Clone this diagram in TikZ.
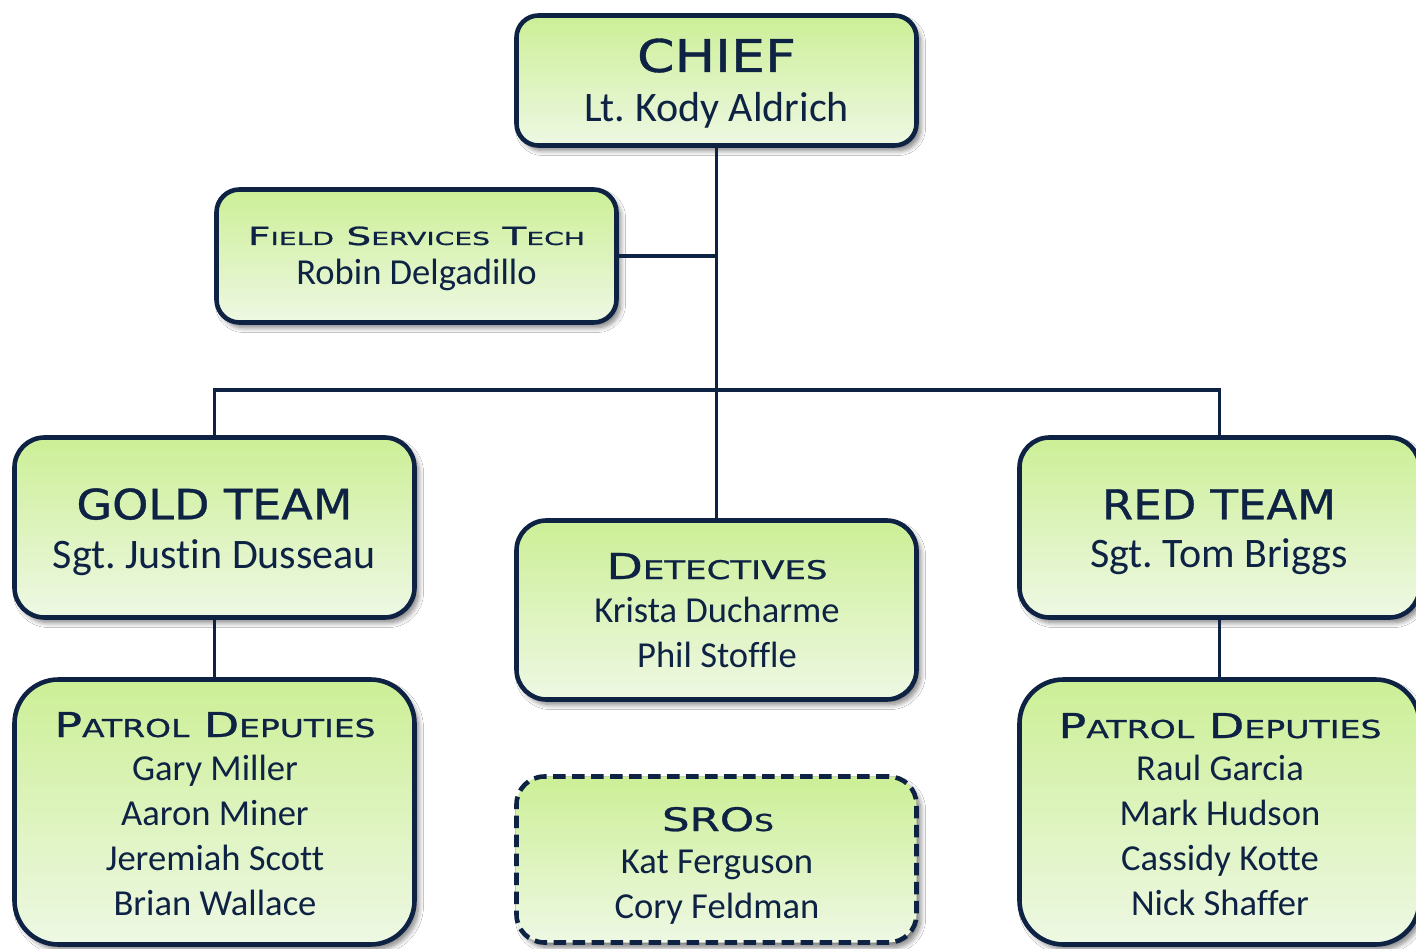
\documentclass[tikz,border=0pt]{standalone}
\usepackage{graphicx}
\usepackage{fontspec}
\setmainfont{Carlito}[Ligatures={NoCommon,NoRequired,NoContextual}]
\newfontfamily\hfont{DejaVu Sans}[FakeBold=0.8]
\usetikzlibrary{shadows.blur}
\definecolor{navy}{RGB}{14,34,68}
\definecolor{gtop}{RGB}{204,239,150}
\definecolor{gbot}{RGB}{238,248,228}
\newcommand\SC[1]{{\fontsize{28.8pt}{30pt}\selectfont #1}}
\newcommand\HD[3]{\resizebox{#1pt}{#2pt}{\hfont\fontsize{40pt}{40pt}\selectfont #3}}
\frenchspacing
\tikzset{
  box/.style={draw=navy, line width=4.6pt, top color=gtop, bottom color=gbot,
    inner sep=0pt, minimum width=400pt,
    blur shadow={shadow xshift=4pt, shadow yshift=-5pt, shadow blur radius=5pt,
      shadow blur steps=8, shadow opacity=50}},
  conn/.style={draw=navy, line width=3.8pt},
  nm/.style={anchor=base, text=navy, inner sep=0pt, font=\fontsize{36.6pt}{44pt}\selectfont},
  nmbig/.style={anchor=base, text=navy, inner sep=0pt, font=\fontsize{42pt}{50pt}\selectfont},
  hd/.style={anchor=base, text=navy, inner sep=0pt},
}
\begin{document}
\begin{tikzpicture}[x=1pt,y=-1pt]
\fill[white] (0,0) rectangle (1416,949);
\useasboundingbox (0,0) rectangle (1416,949);

% boxes
\node[box, rounded corners=22pt, minimum height=130pt] (chief) at (716.5,80.5) {};
\node[box, rounded corners=23pt, minimum height=133pt] (fst) at (416.5,256) {};
\node[box, rounded corners=30pt, minimum height=180pt] (gold) at (214.5,527.5) {};
\node[box, rounded corners=30pt, minimum height=179pt] (det) at (716.5,610) {};
\node[box, rounded corners=30pt, minimum height=180pt] (red) at (1219.5,527.5) {};
\node[box, rounded corners=44pt, minimum height=265pt] (patl) at (214.5,812) {};
\node[box, rounded corners=44pt, minimum height=265pt] (patr) at (1219.5,812) {};
\node[box, rounded corners=28pt, minimum height=166pt, dash pattern=on 12.5pt off 6.5pt] (sro) at (716.5,859.5) {};

% connectors
\coordinate (bus) at (716.5,390);
\draw[conn] (chief.south) -- (det.north);
\draw[conn] (fst.east) -- (fst.east -| chief.south);
\draw[conn] (gold.north) |- (bus) -| (red.north);
\draw[conn] (gold.south) -- (patl.north);
\draw[conn] (red.south) -- (patr.north);

% texts
\node[hd] (chiefh) at (716.5,72) {\HD{159}{33.5}{CHIEF}};
\node[nmbig] (chiefn) at (716.5,122) {Lt. Kody Aldrich};

\node[hd] (fsth) at (416.5,245) {\HD{337}{18.5}{F\SC{IELD} S\SC{ERVICES} T\SC{ECH}}};
\node[nm] (fstn) at (416.5,285) {Robin Delgadillo};

\node[hd] (goldh) at (214.5,519.3) {\HD{276}{31}{GOLD TEAM}};
\node[nmbig] (goldn) at (214.5,568) {Sgt. Justin Dusseau};

\node[hd] (redh) at (1219,519.3) {\HD{234}{30}{RED TEAM}};
\node[nmbig] (redn) at (1219,567) {Sgt. Tom Briggs};

\node[hd] (deth) at (717,579) {\HD{221}{26}{D\SC{ETECTIVES}}};
\node[nm] (detn1) at (717,622) {Krista Ducharme};
\node[nm] (detn2) at (717,667) {Phil Stoffle};

\node[hd] (patlh) at (215,737) {\HD{321}{25}{P\SC{ATROL} D\SC{EPUTIES}}};
\node[nm] (patl1) at (215,780) {Gary Miller};
\node[nm] (patl2) at (215,825) {Aaron Miner};
\node[nm] (patl3) at (215,870) {Jeremiah Scott};
\node[nm] (patl4) at (215,915) {Brian Wallace};

\node[hd] (patrh) at (1220,738) {\HD{323}{25}{P\SC{ATROL} D\SC{EPUTIES}}};
\node[nm] (patr1) at (1220,780) {Raul Garcia};
\node[nm] (patr2) at (1220,825) {Mark Hudson};
\node[nm] (patr3) at (1220,870) {Cassidy Kotte};
\node[nm] (patr4) at (1220,915) {Nick Shaffer};

\node[hd] (sroh) at (718,831) {\HD{112}{24}{SRO\SC{S}}};
\node[nm] (sro1) at (717,873) {Kat Ferguson};
\node[nm] (sro2) at (717,918) {Cory Feldman};
\end{tikzpicture}
\end{document}
